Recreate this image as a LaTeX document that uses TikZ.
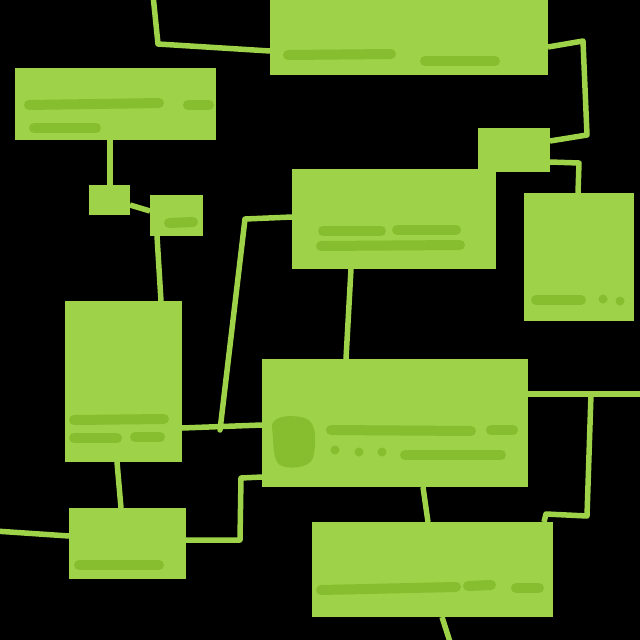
\documentclass[tikz,border=0pt]{standalone}
\usetikzlibrary{calc}
\definecolor{boxgreen}{RGB}{158,210,72}
\definecolor{scribble}{RGB}{135,190,48}
\tikzset{
  box/.style={fill=boxgreen, draw=none, inner sep=0pt, outer sep=0pt, anchor=north west},
  conn/.style={draw=boxgreen, line width=5.5pt, line join=round},
  scr/.style={draw=scribble, line width=10pt, line cap=round},
  dotm/.style={fill=scribble, draw=none},
}
\begin{document}
\begin{tikzpicture}[x=1pt,y=-1pt]
\fill[black] (0,0) rectangle (640,640);
\useasboundingbox (0,0) rectangle (640,640);
\clip (0,0) rectangle (640,640);
% boxes
\node[box, minimum width=278pt, minimum height=85pt] (top) at (270,-10) {};
\node[box, minimum width=201pt, minimum height=72pt] (lt) at (15,68) {};
\node[box, minimum width=41pt, minimum height=30pt] (sa) at (89,185) {};
\node[box, minimum width=53pt, minimum height=41pt] (sb) at (150,195) {};
\node[box, minimum width=72pt, minimum height=44pt] (rs) at (478,128) {};
\node[box, minimum width=204pt, minimum height=100pt] (mid) at (292,169) {};
\node[box, minimum width=110pt, minimum height=128pt] (rt) at (524,193) {};
\node[box, minimum width=117pt, minimum height=161pt] (tall) at (65,301) {};
\node[box, minimum width=266pt, minimum height=128pt] (big) at (262,359) {};
\node[box, minimum width=117pt, minimum height=71pt] (bl) at (69,508) {};
\node[box, minimum width=241pt, minimum height=95pt] (bc) at (312,522) {};
% connectors
\coordinate (e1) at (153,-5);
\coordinate (e2) at (645,394);
\coordinate (e3) at (-5,531);
\coordinate (e4) at (451,645);
\coordinate (j1) at (220,430);
\coordinate (j2) at (591,394);
\draw[conn] (e1) -- (158,44) -- (top.west |- 0,51);
\draw[conn] (top.east |- 0,47) -- (583,41) -- (587,135) -- (rs.east |- 0,141);
\draw[conn] (rs.east |- 0,162) -- (579,163) -- (578,0 |- rt.north);
\draw[conn] (110,0 |- lt.south) -- (110,0 |- sa.north);
\draw[conn] (sa.east |- 0,205) -- (sb.west |- 0,211);
\draw[conn] (157,0 |- sb.south) -- (161,0 |- tall.north);
\draw[conn] (tall.east |- 0,428) -- (big.west |- 0,425);
\draw[conn, line cap=round] (mid.west |- 0,217) -- (245,219) -- (j1);
\draw[conn] (351,0 |- mid.south) -- (346,0 |- big.north);
\draw[conn] (big.east |- 0,394) -- (e2);
\draw[conn] (j2) -- (587,516) -- (546,514) -- (544,0 |- bc.north);
\draw[conn] (big.west |- 0,477) -- (241,478) -- (240,540) -- (bl.east |- 0,540);
\draw[conn] (e3) -- (bl.west |- 0,536);
\draw[conn] (117,0 |- tall.south) -- (121,0 |- bl.north);
\draw[conn] (423,0 |- big.south) -- (428,0 |- bc.north);
\draw[conn] (442,0 |- bc.south) -- (e4);
% scribbles
\draw[scr] (288,55) -- (391,54);
\draw[scr] (425,61) -- (495,61);
\draw[scr] (29,105) -- (159,103);
\draw[scr] (188,105) -- (209,105);
\draw[scr] (34,128) -- (96,128);
\draw[scr] (169,223) -- (193,222);
\draw[scr] (323,231) -- (381,231);
\draw[scr] (397,230) -- (456,230);
\draw[scr] (321,246) -- (460,245);
\draw[scr] (536,300) -- (581,300);
\fill[dotm] (603,299) circle (4.5);
\fill[dotm] (620,301) circle (4.5);
\draw[scr] (74,420) -- (164,419);
\draw[scr] (74,438) -- (117,438);
\draw[scr] (135,437) -- (160,437);
\fill[scribble] (272,428) .. controls (270,416) and (290,414) .. (305,418)
  .. controls (318,422) and (316,445) .. (313,458)
  .. controls (310,468) and (288,470) .. (280,465)
  .. controls (272,460) and (274,440) .. (272,428) -- cycle;
\draw[scr] (331,430) -- (471,431);
\draw[scr] (491,430) -- (513,430);
\fill[dotm] (335,450) circle (4.5);
\fill[dotm] (359,452) circle (4.5);
\fill[dotm] (382,452) circle (4.5);
\draw[scr] (405,455) -- (501,455);
\draw[scr] (79,565) -- (159,565);
\draw[scr] (321,590) -- (456,587);
\draw[scr] (468,586) -- (491,585);
\draw[scr] (516,588) -- (539,588);
\end{tikzpicture}
\end{document}
